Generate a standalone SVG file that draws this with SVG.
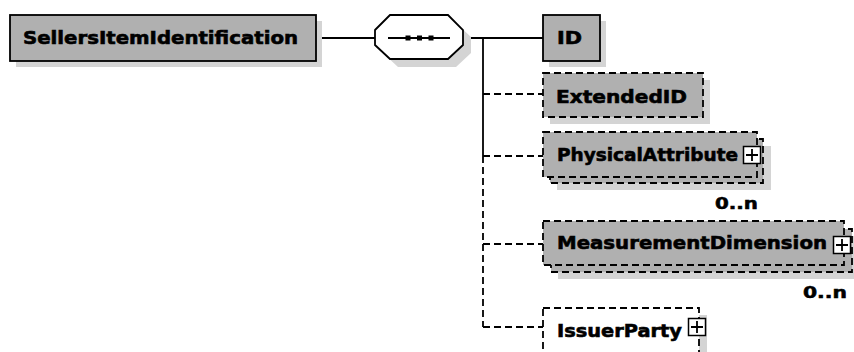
<svg xmlns="http://www.w3.org/2000/svg" width="854" height="352" viewBox="0 0 854 352">
<style>
.shadow{fill:#d4d4d4;stroke:none}
.box{fill:#b0b0b0;stroke:#000;stroke-width:1.8}
.dbox{fill:#b0b0b0;stroke:#000;stroke-width:1.8;stroke-dasharray:7,4}
.wbox{fill:#fff;stroke:#000;stroke-width:1.8;stroke-dasharray:7,4}
.lbl{font-family:"DejaVu Sans","Liberation Sans",sans-serif;font-weight:bold;font-size:18px;fill:#000;stroke:#000;stroke-width:0.6}
.occ{font-family:"DejaVu Sans","Liberation Sans",sans-serif;font-weight:bold;font-size:15px;fill:#000;stroke:#000;stroke-width:0.5}
.ln{stroke:#000;stroke-width:1.8;fill:none}
.dl{stroke:#000;stroke-width:1.8;fill:none;stroke-dasharray:7,4}
.plus rect{fill:#fff;stroke:#000;stroke-width:1.5}
.plus path{stroke:#000;stroke-width:1.8}
</style>
<defs>
<g id="plus" class="plus"><rect x="-8.5" y="-8.5" width="17" height="17"/><path d="M-6,0H6M0,-6V6"/></g>
</defs>

<g id="connectors">
<path class="ln" d="M316,38H375"/>
<path class="ln" d="M463,38H543"/>
<path class="ln" d="M483,38V156"/>
<path class="dl" d="M483,156V327"/>
<path class="dl" d="M483,94H543"/>
<path class="dl" d="M483,156H543"/>
<path class="dl" d="M483,244H543"/>
<path class="dl" d="M483,327H543"/>
</g>

<g id="SellersItemIdentification">
<rect class="shadow" x="16" y="21" width="306" height="46"/>
<rect class="box" x="10" y="15" width="306" height="46"/>
<text class="lbl" x="23" y="44" textLength="275" lengthAdjust="spacingAndGlyphs">SellersItemIdentification</text>
</g>

<g id="sequence">
<polygon class="shadow" points="383,37 398,23 456,23 471,37 471,53 456,67 398,67 383,53"/>
<polygon points="375,30 390,15 448,15 463,30 463,45 448,59 390,59 375,45" fill="#fff" stroke="#000" stroke-width="1.8"/>
<path class="ln" d="M388,38H450"/>
<rect x="405.5" y="35.5" width="5" height="5"/>
<rect x="417" y="35.5" width="5" height="5"/>
<rect x="428.5" y="35.5" width="5" height="5"/>
</g>

<g id="ID">
<rect class="shadow" x="549" y="21" width="57" height="46"/>
<rect class="box" x="543" y="15" width="57" height="46"/>
<text class="lbl" x="557" y="44" textLength="25" lengthAdjust="spacingAndGlyphs">ID</text>
</g>

<g id="ExtendedID">
<rect class="shadow" x="550" y="80" width="160" height="44"/>
<rect class="dbox" x="543" y="73" width="160" height="44"/>
<text class="lbl" x="556" y="103" textLength="131" lengthAdjust="spacingAndGlyphs">ExtendedID</text>
</g>

<g id="PhysicalAttribute">
<rect class="shadow" x="557" y="146" width="214" height="44"/>
<rect class="dbox" x="550" y="139" width="213" height="44"/>
<rect class="dbox" x="543" y="132" width="214" height="45"/>
<text class="lbl" x="557" y="161" textLength="181" lengthAdjust="spacingAndGlyphs">PhysicalAttribute</text>
<use href="#plus" x="752" y="155"/>
<text class="occ" x="715" y="209" textLength="43" lengthAdjust="spacingAndGlyphs">0..n</text>
</g>

<g id="MeasurementDimension">
<rect class="shadow" x="558" y="236" width="302" height="43"/>
<rect class="dbox" x="551" y="229" width="301" height="43"/>
<rect class="dbox" x="543" y="221" width="301" height="44"/>
<text class="lbl" x="557" y="249" textLength="270" lengthAdjust="spacingAndGlyphs">MeasurementDimension</text>
<use href="#plus" x="842" y="245"/>
<text class="occ" x="803" y="298" textLength="44" lengthAdjust="spacingAndGlyphs">0..n</text>
</g>

<g id="IssuerParty">
<rect class="shadow" x="550" y="315" width="157" height="44"/>
<rect class="wbox" x="543" y="308" width="156" height="46"/>
<text class="lbl" x="557" y="337" textLength="125" lengthAdjust="spacingAndGlyphs">IssuerParty</text>
<use href="#plus" x="697" y="327"/>
</g>
</svg>
